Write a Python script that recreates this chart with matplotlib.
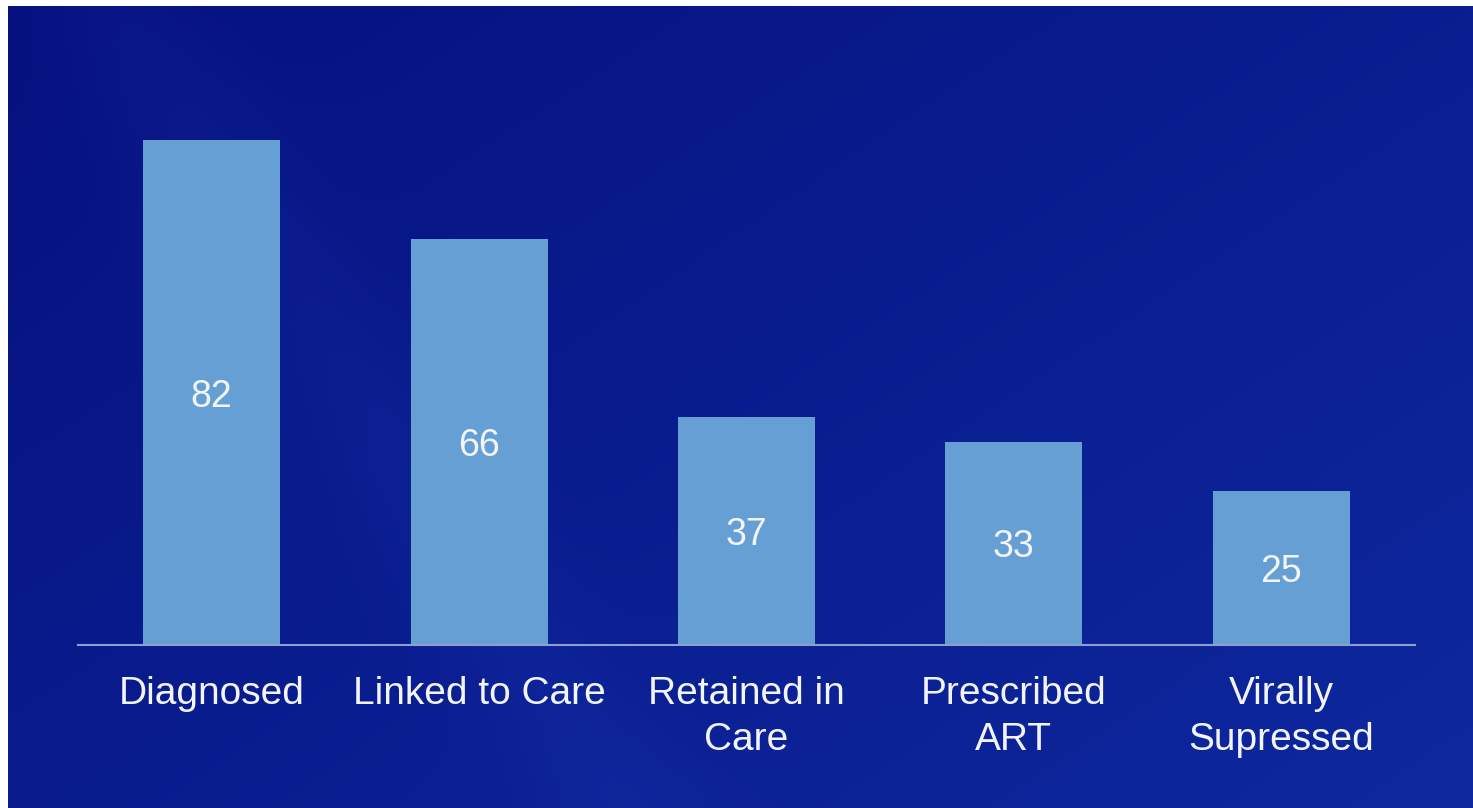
import numpy as np
import matplotlib
matplotlib.use("Agg")
import matplotlib.pyplot as plt

categories = ["Diagnosed", "Linked to Care", "Retained in\nCare", "Prescribed\nART", "Virally\nSupressed"]
values = [82, 66, 37, 33, 25]

W, H = 1473, 808
fig = plt.figure(figsize=(W / 100, H / 100), dpi=100, facecolor="white")

# background gradient
bg = fig.add_axes([8 / W, 0, 1 - 8 / W, 1 - 6 / H])
bg.set_axis_off()
ny, nx = 200, 360
yy, xx = np.mgrid[0:1:ny * 1j, 0:1:nx * 1j]
dark = np.array([0x05, 0x10, 0x7e]) / 255
light = np.array([0x0e, 0x28, 0x9e]) / 255
t = np.clip(0.55 * xx + 0.45 * yy, 0, 1) ** 0.9
img = dark[None, None, :] * (1 - t[..., None]) + light[None, None, :] * t[..., None]
d = xx * 1.0 + (1 - yy) * 0.35
streak = np.exp(-((d - 0.42) / 0.06) ** 2) * 0.025
img = np.clip(img + streak[..., None] * np.array([0.6, 0.7, 1.0]), 0, 1)
bg.imshow(img, aspect="auto", extent=[0, 1, 0, 1], origin="upper")
bg.set_xlim(0, 1)
bg.set_ylim(0, 1)

ax = fig.add_axes([78 / W, 1 - 645 / H, (1415 - 78) / W, (645 - 91) / H])
ax.patch.set_alpha(0)
x = np.arange(len(categories))
bar_color = "#659fd3"
ax.bar(x, values, width=0.513, color=bar_color, zorder=2)
ax.set_xlim(-0.5, 4.5)
ax.set_ylim(0, 90)
for xi, v in zip(x, values):
    ax.text(xi, v / 2, str(v), ha="center", va="center_baseline", color="#f2f5fc",
            fontsize=27, family="Liberation Sans")
for s in ["top", "right", "left"]:
    ax.spines[s].set_visible(False)
ax.spines["bottom"].set_color("#8d9fcf")
ax.spines["bottom"].set_linewidth(1.5)
ax.set_yticks([])
ax.set_xticks(x)
ax.set_xticklabels(categories, color="#f2f5fc", fontsize=28, family="Liberation Sans",
                   linespacing=1.38)
ax.tick_params(axis="x", length=0, pad=22)

fig.savefig("out.png", dpi=100, facecolor="white")
